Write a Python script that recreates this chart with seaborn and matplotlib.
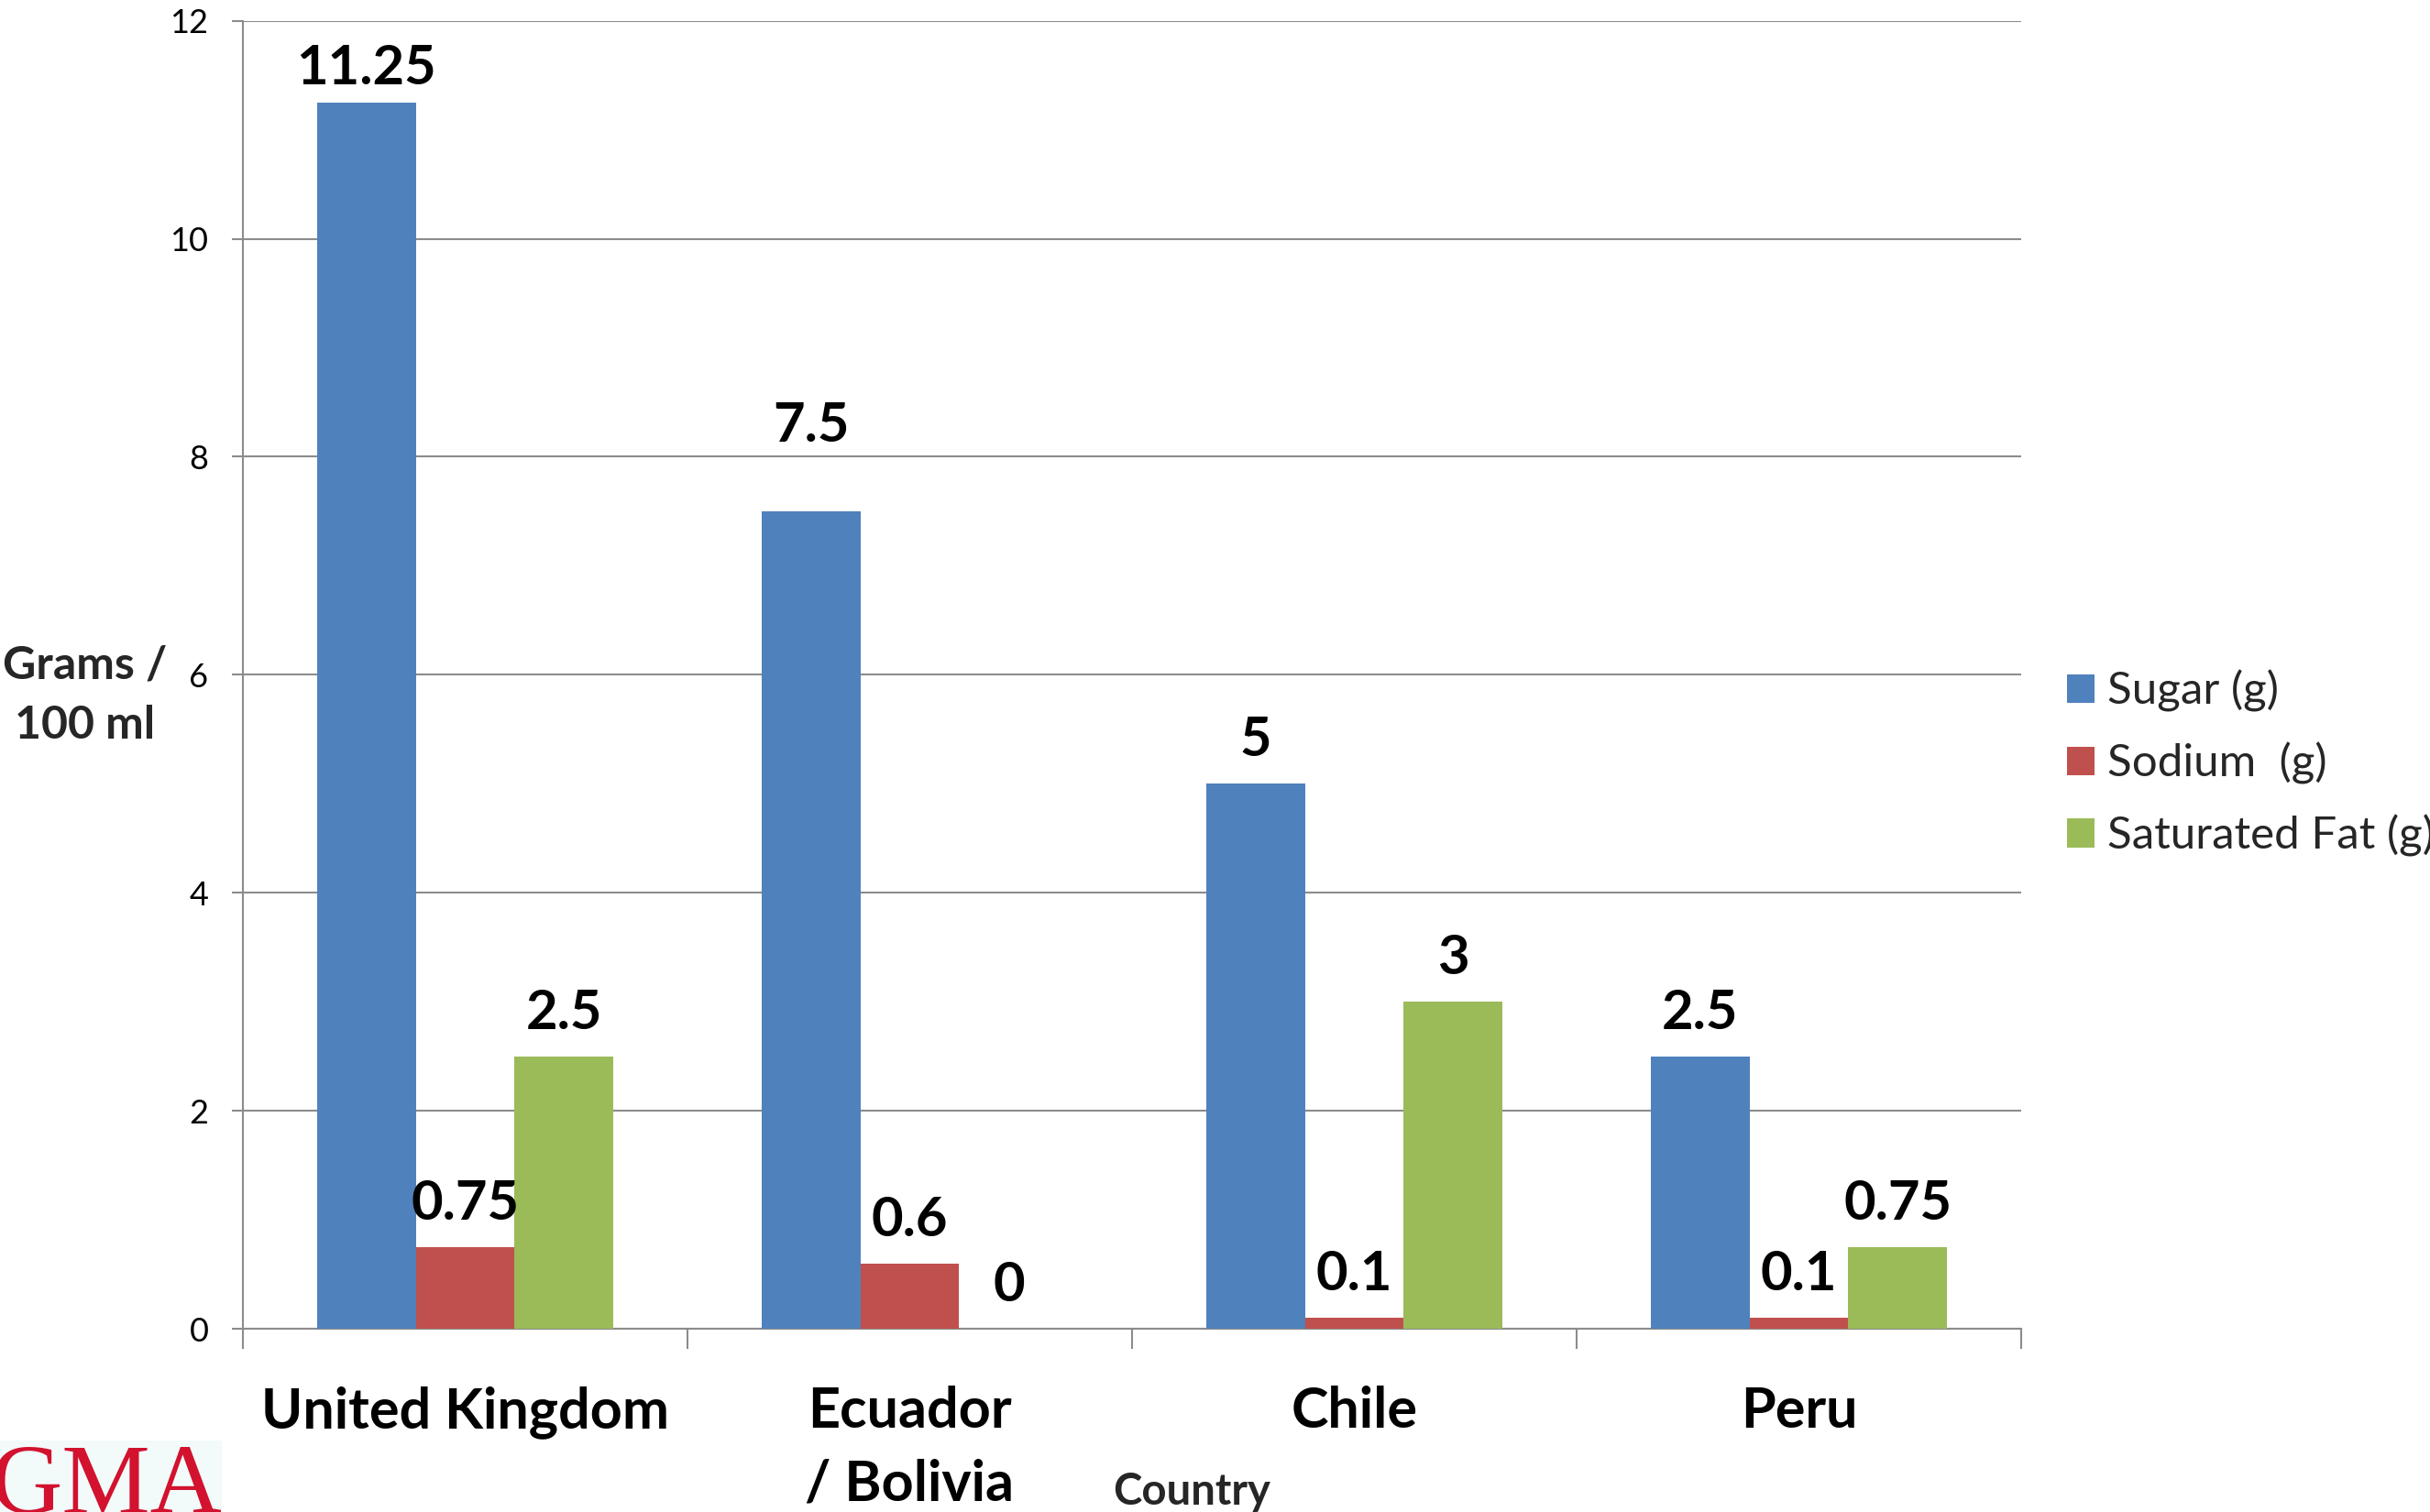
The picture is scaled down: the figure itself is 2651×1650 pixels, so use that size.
import matplotlib
matplotlib.use("Agg")
import matplotlib.pyplot as plt
import seaborn as sns
import pandas as pd

# Nutrient content per 100 ml, by country
countries = ["United Kingdom", "Ecuador\n/ Bolivia", "Chile", "Peru"]
nutrients = ["Sugar (g)", "Sodium  (g)", "Saturated Fat (g)"]
sugar = [11.25, 7.5, 5, 2.5]
sodium = [0.75, 0.6, 0.1, 0.1]
sat_fat = [2.5, 0, 3, 0.75]
value_labels = {
    "Sugar (g)": ["11.25", "7.5", "5", "2.5"],
    "Sodium  (g)": ["0.75", "0.6", "0.1", "0.1"],
    "Saturated Fat (g)": ["2.5", "0", "3", "0.75"],
}
y_ticks = [0, 2, 4, 6, 8, 10, 12]

colors = ["#4F81BD", "#C0504D", "#9BBB59"]
grid_gray = "#8C8C8C"

df = pd.DataFrame({
    "Country": countries * 3,
    "Nutrient": [n for n in nutrients for _ in countries],
    "Grams": sugar + sodium + sat_fat,
})

sns.set_theme(style="white")
plt.rcParams["font.family"] = ["Lato", "DejaVu Sans"]

W, H = 2651, 1650
fig = plt.figure(figsize=(W / 100, H / 100), dpi=100)
ax = fig.add_axes([265 / W, 1 - 1450 / H, (2205 - 265) / W, (1450 - 22.7) / H])

sns.barplot(data=df, x="Country", y="Grams", hue="Nutrient", order=countries,
            hue_order=nutrients, palette=colors, width=0.667, gap=0,
            saturation=1, linewidth=0, ax=ax, legend=False, zorder=3)

ax.set_xlim(-0.5, 3.5)
ax.set_ylim(0, 12)
ax.set_yticks(y_ticks)
ax.set_yticklabels([str(t) for t in y_ticks], fontsize=26, color="black")
ax.yaxis.grid(True, color=grid_gray, linewidth=1.5, zorder=0)
ax.set_axisbelow(True)

for s in ["top", "right"]:
    ax.spines[s].set_visible(False)
for s in ["left", "bottom"]:
    ax.spines[s].set_color(grid_gray)
    ax.spines[s].set_linewidth(1.5)

ax.tick_params(axis="y", which="major", direction="out", length=9,
               width=1.5, color=grid_gray, pad=18, left=True)
ax.set_xticks(range(len(countries)))
ax.set_xticklabels(countries, fontsize=44, fontweight="bold", color="black",
                   linespacing=1.5)
ax.tick_params(axis="x", which="major", length=0, pad=45)
ax.set_xticks([i - 0.5 for i in range(len(countries) + 1)], minor=True)
ax.tick_params(axis="x", which="minor", direction="out", length=16,
               width=1.5, color=grid_gray, bottom=True)
ax.set_xlabel("")
ax.set_ylabel("")

# Value labels above each bar
offsets = {("Sugar (g)", 0): 14.4, ("Sugar (g)", 1): 54.7}
for nut, cont in zip(nutrients, ax.containers):
    for i, bar in enumerate(cont):
        x = bar.get_x() + bar.get_width() / 2
        h = bar.get_height()
        off = offsets.get((nut, i), 21.6)
        ax.annotate(value_labels[nut][i], xy=(x, h), xytext=(0, off),
                    textcoords="offset points", ha="center", va="baseline",
                    fontsize=43, fontweight="bold", color="black")

# Axis titles
fig.text(93 / W, 1 - 759 / H, "Grams /\n100 ml", ha="center", va="center",
         fontsize=36, fontweight="bold", linespacing=1.55)
fig.text(1300 / W, 1 - 1642 / H, "Country", ha="center", va="baseline",
         fontsize=34, fontweight="bold")

# Legend
handles = [plt.Rectangle((0, 0), 1, 1, facecolor=c, edgecolor="none") for c in colors]
fig.legend(handles, nutrients, loc="center left",
           bbox_to_anchor=(2255 / W, 1 - 833 / H), frameon=False,
           fontsize=35.5, handlelength=0.6, handleheight=0.6,
           handletextpad=0.3, labelspacing=0.66, borderpad=0, borderaxespad=0)

# Logo fragment in the corner
fig.patches.append(plt.Rectangle((0, 0), 242 / W, 78 / H, transform=fig.transFigure,
                                 facecolor="#f2fafa", edgecolor="none", zorder=0))
fig.text(-10 / W, -1 / H, "GMA", ha="left", va="baseline", fontsize=78,
         family=["Liberation Serif"], color="#D2122E")

fig.savefig("out.png", dpi=100)
